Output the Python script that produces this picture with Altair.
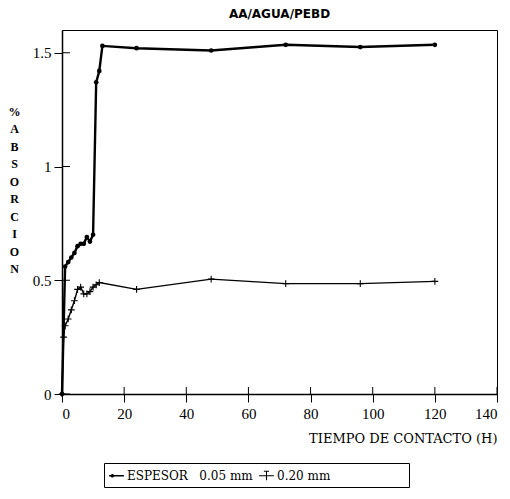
import altair as alt
import pandas as pd

series_names = ["ESPESOR\u00a0\u00a0\u00a00.05 mm",
                "0.20 mm" + "\u00a0" * 3 + "\u2800" * 7]

hours_a = [0, 1, 2, 3, 4, 5, 6, 7, 8, 9, 10, 11, 12, 13, 24, 48, 72, 96, 120]
absorc_a = [0, 0.56, 0.58, 0.60, 0.62, 0.65, 0.66, 0.66, 0.69, 0.67, 0.70, 1.37, 1.42, 1.53,
            1.52, 1.51, 1.535, 1.525, 1.535]

hours_b = [0, 0.5, 1, 2, 3, 4, 5, 6, 7, 8, 9, 10, 11, 12, 24, 48, 72, 96, 120]
absorc_b = [0, 0.25, 0.30, 0.33, 0.37, 0.41, 0.46, 0.47, 0.44, 0.44, 0.45, 0.47, 0.48, 0.49,
            0.46, 0.505, 0.485, 0.485, 0.495]

y_ticks = [0, 0.5, 1, 1.5]
x_ticks = [0, 20, 40, 60, 80, 100, 120, 140]
y_title = ["%", "A", "B", "S", "O", "R", "C", "I", "O", "N"]

df = pd.DataFrame({
    "series": [series_names[0]] * len(hours_a) + [series_names[1]] * len(hours_b),
    "hours": hours_a + hours_b,
    "absorc": absorc_a + absorc_b,
})

W, H = 435, 364
xscale = alt.Scale(domain=[0, 140], nice=False, zero=False)
yscale = alt.Scale(domain=[0, 1.6], nice=False, zero=False)

x_axis = alt.Axis(values=x_ticks, title="TIEMPO DE CONTACTO (H)",
                  titleAnchor="end", titlePadding=11,
                  titleFont="DejaVu Serif", titleFontSize=13,
                  titleFontWeight="normal",
                  labelFont="Liberation Serif", labelFontSize=15,
                  labelPadding=4)
y_axis = alt.Axis(values=y_ticks, format="~g", title=y_title,
                  titleAngle=0, titleAlign="center", titleBaseline="top",
                  titleX=-48, titleY=76, titleLineHeight=17.5,
                  titleFont="Liberation Serif", titleFontSize=12,
                  titleFontWeight="bold",
                  labelFont="Liberation Serif", labelFontSize=15,
                  labelPadding=3)

x_enc = alt.X("hours:Q", scale=xscale, axis=x_axis)
y_enc = alt.Y("absorc:Q", scale=yscale, axis=y_axis)

base = alt.Chart(df)
sel_a = alt.datum.series == series_names[0]
sel_b = alt.datum.series == series_names[1]

line_a = base.transform_filter(sel_a).mark_line(color="black", strokeWidth=2.4).encode(
    x=x_enc, y=y_enc)
line_b = base.transform_filter(sel_b).mark_line(color="black", strokeWidth=1.4).encode(
    x=x_enc, y=y_enc)

pts_a = base.transform_filter(sel_a).mark_point(
    shape="circle", filled=True, size=22, color="black", opacity=1).encode(x=x_enc, y=y_enc)

pts_b = base.transform_filter(sel_b).mark_point(
    shape="M-1,0L1,0M0,-1L0,1", size=45, color="black", strokeWidth=1.1, opacity=1
).encode(x=x_enc, y=y_enc)

# legend glyphs drawn as filled thin shapes (line + dot, line + cross)
path_a = ("M-1,-0.1L1,-0.1L1,0.1L-1,0.1Z"
          "M-0.8,0A0.24,0.24 0 1,1 -0.32,0A0.24,0.24 0 1,1 -0.8,0Z")
path_b = ("M-1,-0.07L1,-0.07L1,0.07L-1,0.07Z"
          "M-0.07,-0.6L0.07,-0.6L0.07,0.6L-0.07,0.6Z"
          "M-0.35,-0.67L0.35,-0.67L0.35,-0.53L-0.35,-0.53Z")

legend_layer = base.transform_filter("datum.hours < 0").mark_point(
    filled=True, color="black", opacity=1
).encode(
    x=x_enc, y=y_enc,
    shape=alt.Shape("series:N",
                    scale=alt.Scale(domain=series_names, range=[path_a, path_b]),
                    legend=alt.Legend(title=None, orient="none", legendX=42, legendY=433,
                                      direction="horizontal", columns=2,
                                      strokeColor="black", padding=5,
                                      labelFont="DejaVu Serif", labelFontSize=12,
                                      labelColor="black", labelOffset=3,
                                      symbolSize=220, symbolStrokeWidth=0,
                                      symbolOpacity=1,
                                      symbolFillColor="black",
                                      columnPadding=6)),
)

ytick_df = pd.DataFrame({"absorc": y_ticks})
xtick_df = pd.DataFrame({"hours": x_ticks})

ytick_in = alt.Chart(ytick_df).mark_rule(color="black", strokeWidth=1).encode(
    y=y_enc, x=alt.value(0), x2=alt.value(8))
xtick_in = alt.Chart(xtick_df).mark_rule(color="black", strokeWidth=1).encode(
    x=x_enc, y=alt.value(H), y2=alt.value(H - 7))

chart = alt.layer(line_a, line_b, pts_a, pts_b, legend_layer, ytick_in, xtick_in).properties(
    width=W, height=H, padding=0, background="white",
    title=alt.Title("AA/AGUA/PEBD", font="DejaVu Sans", fontSize=12, fontWeight="bold",
                    anchor="middle", frame="group", offset=9, color="black"),
).configure_view(stroke="black", strokeWidth=1).configure_axis(
    grid=False, domainColor="black", domainWidth=1.5, tickColor="black",
    tickWidth=1, tickSize=8, labelColor="black", titleColor="black",
)

chart.save("out.html", embed_options={"renderer": "svg", "actions": False})
